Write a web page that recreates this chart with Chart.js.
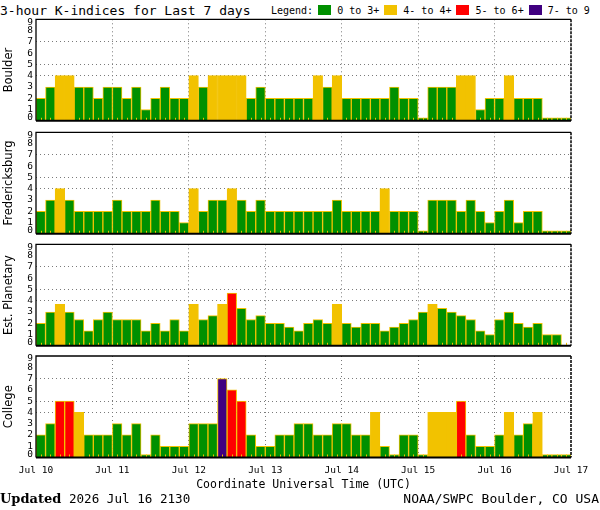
<!DOCTYPE html>
<html>
<head>
<meta charset="utf-8">
<title>3-hour K-indices</title>
<script src="https://cdn.jsdelivr.net/npm/chart.js@4.4.1/dist/chart.umd.min.js"></script>
<style>
  body { margin: 0; background: #fff; }
  #page { position: relative; width: 600px; height: 510px; overflow: hidden; font-family: "DejaVu Sans Mono", monospace; color: #000; }
  #page canvas { position: absolute; left: 0; }
  .txt { position: absolute; white-space: pre; line-height: 1; }
  #legend { position: absolute; left: 271px; top: 5px; height: 10px; display: flex; align-items: center; font-size: 10px; }
  #legend .box { width: 13px; height: 10px; margin-right: 6px; }
  #legend .lbl { margin-right: 5px; position: relative; top: 1px; line-height: 10px; white-space: pre; }
</style>
</head>
<body>
<div id="page">
  <div class="txt" style="left:0;top:4px;font-size:13px">3-hour K-indices for Last 7 days</div>
  <div id="legend"><span class="lbl">Legend:</span></div>
  <canvas id="c0"></canvas>
  <canvas id="c1"></canvas>
  <canvas id="c2"></canvas>
  <canvas id="c3"></canvas>
  <div class="txt" style="left:0;top:492px;font-size:12.6px"><b style="font-family:'DejaVu Serif';font-size:13px">Updated</b> 2026 Jul 16 2130</div>
  <div class="txt" style="right:1px;top:492px;font-size:13px">NOAA/SWPC Boulder, CO USA</div>
</div>
<script>
// day boundaries in hours since Jul 10 00 UT
var dayTicks = [0, 24, 48, 72, 96, 120, 144, 168];
var dayLabels = ['Jul 10', 'Jul 11', 'Jul 12', 'Jul 13', 'Jul 14', 'Jul 15', 'Jul 16', 'Jul 17'];
var kTicks = [0, 1, 2, 3, 4, 5, 6, 7, 8, 9];
var kGridLevels = [4, 5, 7];
var stations = ['Boulder', 'Fredericksburg', 'Est. Planetary', 'College'];
var legendLabels = ['0 to 3+', '4- to 4+', '5- to 6+', '7- to 9'];

// one value per 3-hour interval, 8 per day
var boulder = [2, 3, 4, 4, 3, 3, 2, 3,  3, 2, 3, 1, 2, 3, 2, 2,  4, 3, 4, 4, 4, 4, 2, 3,  2, 2, 2, 2, 2, 4, 3, 4,
               2, 2, 2, 2, 2, 3, 2, 2,  0, 3, 3, 3, 4, 4, 1, 2,  2, 4, 2, 2, 2, 0, 0, 0];
var fredericksburg = [2, 3, 4, 3, 2, 2, 2, 2,  3, 2, 2, 2, 3, 2, 2, 1,  4, 2, 3, 3, 4, 3, 2, 3,  2, 2, 2, 2, 2, 2, 2, 3,
                      2, 2, 2, 2, 4, 2, 2, 2,  0, 3, 3, 3, 2, 3, 2, 1,  2, 3, 1, 2, 2, 0, 0, 0];
var planetary = [2, 3, 3.67, 3, 2.33, 1.33, 2.33, 3,  2.33, 2.33, 2.33, 1.33, 2, 1.33, 2.33, 1.33,
                 3.67, 2.33, 2.67, 3.67, 4.67, 3.33, 2.33, 2.67,  2, 2, 1.67, 1.33, 2, 2.33, 2, 3.67,
                 2, 1.67, 2, 2, 1.33, 1.67, 2, 2.33,  3, 3.67, 3.33, 3, 2.67, 2.33, 1.33, 1,
                 2.33, 3, 2, 1.67, 2, 1, 1, null];
var college = [2, 3, 5, 5, 4, 2, 2, 2,  3, 2, 3, 0, 2, 1, 1, 1,  3, 3, 3, 7, 6, 5, 2, 1,  1, 2, 2, 3, 3, 2, 2, 3,
               3, 2, 2, 4, 1, 0, 2, 2,  0, 4, 4, 4, 5, 2, 1, 1,  2, 4, 2, 3, 4, 0, 0, 0];
var series = [boulder, fredericksburg, planetary, college];

var GREEN = '#009000', YELLOW = '#f2c200', RED = '#ff0000', PURPLE = '#400080';
var GRID = '#7a7a7a', NONE = 'rgba(0,0,0,0)';
var legendColors = [GREEN, YELLOW, RED, PURPLE];
var MONO = '"DejaVu Sans Mono", monospace';

function kColor(v) {
    if (v >= 6.5) return PURPLE;
    if (v >= 4.5) return RED;
    if (v >= 3.5) return YELLOW;
    return GREEN;
}

// legend in the header
var legend = document.getElementById('legend');
legendLabels.forEach(function(label, i) {
    var box = document.createElement('span');
    box.className = 'box';
    box.style.background = legendColors[i];
    var txt = document.createElement('span');
    txt.className = 'lbl';
    txt.textContent = label;
    legend.appendChild(box);
    legend.appendChild(txt);
});

// small 3-hour marks along the bottom of each panel, then the frame
var hourMarks = {
    id: 'hourMarks',
    afterDatasetsDraw: function(chart) {
        var ctx = chart.ctx, a = chart.chartArea, x = chart.scales.x;
        ctx.save();
        ctx.strokeStyle = YELLOW;
        ctx.lineWidth = 1;
        chart.data.datasets[0].data.forEach(function(d) {
            var px = Math.round(x.getPixelForValue(d.x)) + 0.5;
            ctx.beginPath();
            ctx.moveTo(px, a.bottom);
            ctx.lineTo(px, a.bottom - 3);
            ctx.stroke();
        });
        ctx.strokeStyle = '#000';
        ctx.lineWidth = 1.3;
        ctx.beginPath();
        ctx.moveTo(a.right, a.top);
        ctx.lineTo(a.left, a.top);
        ctx.lineTo(a.left, a.bottom);
        ctx.stroke();
        ctx.lineWidth = 2;
        ctx.beginPath();
        ctx.moveTo(a.left, a.bottom);
        ctx.lineTo(a.right, a.bottom);
        ctx.stroke();
        ctx.lineWidth = 1.5;
        ctx.setLineDash([3, 1]);
        ctx.beginPath();
        ctx.moveTo(a.right, a.top);
        ctx.lineTo(a.right, a.bottom);
        ctx.stroke();
        ctx.restore();
    }
};

var panelTop = [19.3, 132.3, 244.3, 356];
var panelHeight = 101.5;

function makePanel(i) {
    var last = i === series.length - 1;
    var canvas = document.getElementById('c' + i);
    var canvasTop = Math.floor(panelTop[i] - 2);
    var padTop = panelTop[i] - canvasTop;
    var canvasH = last ? 495 - canvasTop : Math.ceil(padTop + panelHeight + 2);
    var xh = canvasH - padTop - panelHeight;
    canvas.width = 600;
    canvas.height = canvasH;
    canvas.style.top = canvasTop + 'px';

    var points = series[i].map(function(v, j) { return { x: 3 * j + 1.5, y: v }; });

    return new Chart(canvas.getContext('2d'), {
        type: 'bar',
        data: {
            datasets: [{
                data: points,
                backgroundColor: function(c) { return kColor(c.parsed ? c.parsed.y : 0); },
                borderColor: YELLOW,
                borderWidth: 1,
                barPercentage: 1,
                categoryPercentage: 1,
                minBarLength: 3
            }]
        },
        options: {
            responsive: false,
            animation: false,
            events: [],
            layout: { padding: { top: padTop, right: 29, left: 0, bottom: 0 } },
            plugins: { legend: { display: false }, tooltip: { enabled: false } },
            scales: {
                x: {
                    type: 'linear',
                    min: 0,
                    max: 168,
                    offset: false,
                    afterBuildTicks: function(s) { s.ticks = dayTicks.map(function(v) { return { value: v }; }); },
                    afterFit: function(s) { s.height = xh; s.paddingLeft = 0; s.paddingRight = 0; },
                    ticks: {
                        display: last,
                        autoSkip: false,
                        maxRotation: 0,
                        padding: 7,
                        color: '#000',
                        font: { family: MONO, size: 9.5 },
                        callback: function(v) { return dayLabels[dayTicks.indexOf(v)]; }
                    },
                    grid: {
                        offset: false,
                        drawTicks: false,
                        lineWidth: 1,
                        color: function(c) { return c.tick && c.tick.value > 0 && c.tick.value < 168 ? GRID : NONE; }
                    },
                    border: { display: false, dash: [1, 3] },
                    title: {
                        display: last,
                        text: 'Coordinate Universal Time (UTC)',
                        color: '#000',
                        font: { family: MONO, size: 11.5 },
                        padding: { top: 0, bottom: 3 }
                    }
                },
                y: {
                    min: 0,
                    max: 9,
                    afterBuildTicks: function(s) { s.ticks = kTicks.map(function(v) { return { value: v }; }); },
                    afterFit: function(s) { s.width = 36; s.paddingTop = 0; s.paddingBottom = 0; },
                    ticks: {
                        autoSkip: false,
                        padding: 3,
                        color: '#000',
                        font: function(c) {
                            var edge = c.tick && (c.tick.value === 0 || c.tick.value === 9);
                            return { family: MONO, size: 9.5, lineHeight: edge ? 0.63 : 1.2 };
                        },
                        // keep the end labels inside the frame
                        callback: function(v) {
                            if (v === 9) return ['', '9'];
                            if (v === 0) return ['0', ''];
                            return String(v);
                        }
                    },
                    grid: {
                        drawTicks: false,
                        lineWidth: 1,
                        color: function(c) { return c.tick && kGridLevels.indexOf(c.tick.value) >= 0 ? GRID : NONE; }
                    },
                    border: { display: false, dash: [1, 3] },
                    title: {
                        display: true,
                        text: stations[i],
                        color: '#000',
                        font: { family: '"DejaVu Sans", sans-serif', size: 11.5 },
                        padding: { top: 2, bottom: 0 }
                    }
                }
            }
        },
        plugins: [hourMarks]
    });
}

var charts = series.map(function(s, i) { return makePanel(i); });
</script>
</body>
</html>
